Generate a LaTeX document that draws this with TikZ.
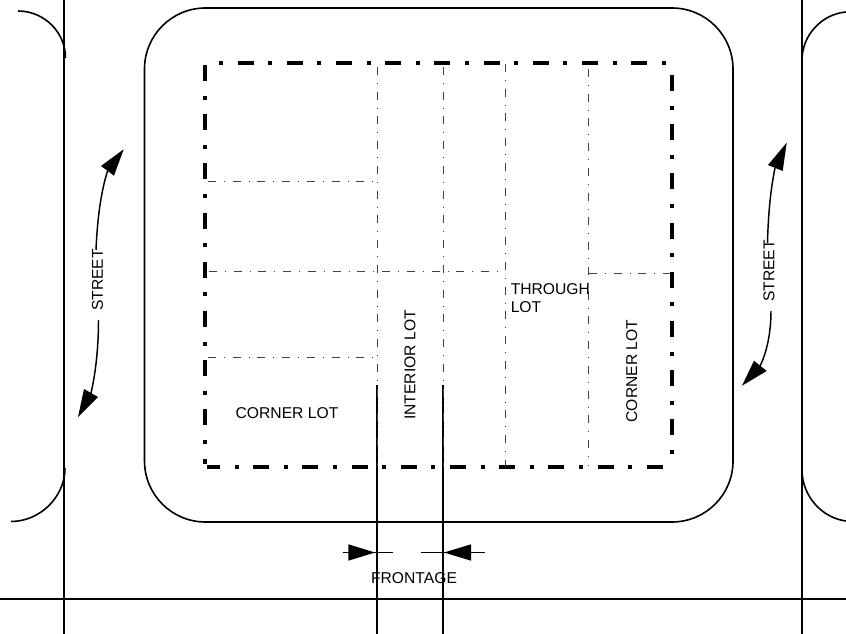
\documentclass[tikz,border=0pt]{standalone}
\usepackage{fontspec}
\setmainfont{Liberation Sans}
\tikzset{
  x=0.75pt,y=-0.75pt,
  street/.style={line width=1.3pt,black},
  curb/.style={line width=1.2pt,black},
  lead/.style={line width=1.1pt,black},
  head/.style={fill=black,draw=none},
  heavy/.style={line width=3pt,black,dash pattern=on 12pt off 10.95pt on 3pt off 10.95pt},
  lotline/.style={line width=0.55pt,black!75,dash pattern=on 6pt off 6pt on 0.75pt off 5.8pt},
  label/.style={font=\fontsize{11.75pt}{13.5pt}\selectfont,inner sep=0pt,text=black}
}
\begin{document}
\begin{tikzpicture}
\useasboundingbox (0,0) rectangle (846,634);
\fill[white] (0,0) rectangle (846,634);
% streets
\draw[street] (63.8,0) -- (63.8,634);
\draw[street] (801.8,0) -- (801.8,634);
\draw[street] (0,599.3) -- (846,599.3);
\draw[street] (376.8,385) -- (376.8,634);
\draw[street] (443.2,385) -- (443.2,634);
% curbs
\draw[curb,rounded corners=45.75pt] (144.5,8) rectangle (733,522);
\draw[curb] (18,11) .. controls (44,11) and (65.5,32) .. (65.5,58);
\draw[curb] (11,521.5) .. controls (40,521.5) and (65,497) .. (65,468);
\draw[curb] (846,12) .. controls (822,14) and (802,35) .. (802,60);
\draw[curb] (846,521) .. controls (822,518) and (802,496) .. (802,470);
% site boundary
\draw[heavy] (205,65) -- (205,464);
\draw[heavy,dash phase=22.95pt] (219,63) -- (666,63);
\draw[heavy] (672,75) -- (672,458);
\draw[heavy,dash phase=2.2pt] (207,466.5) -- (663,466.5);
% lot lines
\draw[lotline] (377.5,67) -- (377.5,466);
\draw[lotline] (443.5,67) -- (443.5,466);
\draw[lotline] (505.7,64) -- (505.7,466);
\draw[lotline] (588.7,69) -- (588.7,466);
\draw[lotline] (208,181) -- (376,181);
\draw[lotline] (209,271) -- (505,271);
\draw[lotline] (208,357.5) -- (375,357.5);
\draw[lotline] (589,273.5) -- (670,273.5);
% left street arrows
\draw[lead] (107.5,171) .. controls (100,195) and (97,225) .. (96,250);
\fill[head] (123.7,149.3) -- (101,166) -- (114,175.7) -- cycle;
\draw[lead] (98.5,320) .. controls (98.5,345) and (96,372) .. (91,393);
\fill[head] (78,417) -- (84,389) -- (98,397) -- cycle;
% right street arrows
\draw[lead] (775,168) .. controls (770,192) and (768,220) .. (767.5,243);
\fill[head] (786.7,142.7) -- (768,165) -- (782.7,171) -- cycle;
\draw[lead] (771,311) .. controls (771,332) and (767,352) .. (760,366);
\fill[head] (742,385.7) -- (754,360.7) -- (766.7,371) -- cycle;
% frontage arrows
\draw[lead] (342.7,552.7) -- (393,552.7);
\fill[head] (375,552.5) -- (348.3,544.3) -- (348.3,560.7) -- cycle;
\draw[lead] (421,552.7) -- (485,552.7);
\fill[head] (444,552.5) -- (471,544.3) -- (471,560.7) -- cycle;
% labels
\node[label] (cornerA) at (287,413) {CORNER LOT};
\node[label,rotate=90] (interior) at (410,365) {INTERIOR LOT};
\node[label,rotate=90] (cornerB) at (631.7,371) {CORNER LOT};
\node[label,align=left,anchor=north west] (through) at (510.5,283.5) {THROUGH\\LOT};
\node[label] (frontage) at (414,578) {FRONTAGE};
\node[label,rotate=90] (streetL) at (97.5,280) {STREET};
\node[label,rotate=90] (streetR) at (769,271) {STREET};
\end{tikzpicture}
\end{document}
